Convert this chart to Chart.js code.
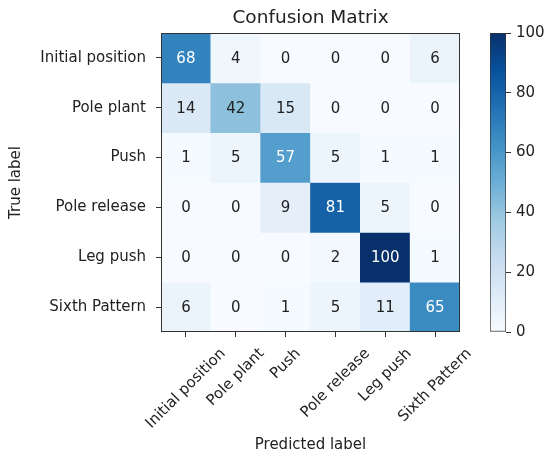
<!DOCTYPE html>
<html>
<head>
<meta charset="utf-8">
<script src="https://cdn.jsdelivr.net/npm/chart.js@4.4.1/dist/chart.umd.min.js"></script>
<style>
  html, body { margin: 0; padding: 0; background: #ffffff; }
  #wrap { position: relative; width: 545px; height: 459px; background: #ffffff; }
  #wrap canvas { position: absolute; left: 0; top: 0; }
</style>
</head>
<body>
<div id="wrap">
  <canvas id="matrix" width="545" height="459"></canvas>
  <canvas id="cbar" width="545" height="459"></canvas>
</div>
<script>
// Class names (rows = true label, columns = predicted label)
const classNames = ['Initial position', 'Pole plant', 'Push', 'Pole release', 'Leg push', 'Sixth Pattern'];

// Counts per true class, in predicted-class order
const rowInitialPosition = [68, 4, 0, 0, 0, 6];
const rowPolePlant       = [14, 42, 15, 0, 0, 0];
const rowPush            = [1, 5, 57, 5, 1, 1];
const rowPoleRelease     = [0, 0, 9, 81, 5, 0];
const rowLegPush         = [0, 0, 0, 2, 100, 1];
const rowSixthPattern    = [6, 0, 1, 5, 11, 65];

// Colour bar scale
const colorbarTicks = [0, 20, 40, 60, 80, 100];

const titleText = 'Confusion Matrix';
const xTitle = 'Predicted label';
const yTitle = 'True label';

const rows = [rowInitialPosition, rowPolePlant, rowPush, rowPoleRelease, rowLegPush, rowSixthPattern];
const vmin = colorbarTicks[0];
const vmax = colorbarTicks[colorbarTicks.length - 1];

// "Blues" sequential colour map anchors
const bluesStops = ['#f7fbff', '#deebf7', '#c6dbef', '#9ecae1', '#6baed6', '#4292c6', '#2171b5', '#08519c', '#08306b'];

function hexToRgb(h) {
  return [parseInt(h.slice(1, 3), 16), parseInt(h.slice(3, 5), 16), parseInt(h.slice(5, 7), 16)];
}
function blues(v) {
  let t = (v - vmin) / (vmax - vmin);
  t = Math.max(0, Math.min(1, t));
  const pos = t * (bluesStops.length - 1);
  const k = Math.min(Math.floor(pos), bluesStops.length - 2);
  const f = pos - k;
  const a = hexToRgb(bluesStops[k]), b = hexToRgb(bluesStops[k + 1]);
  const c = a.map((x, i) => Math.round(x + (b[i] - x) * f));
  return 'rgb(' + c.join(',') + ')';
}

const FONT = 'DejaVu Sans';
const TEXT = '#222222';
const EDGE = '#333333';
const threshold = (vmax + vmin) / 2;

// One floating-bar dataset per true-label row; each bar spans its row band
const datasets = rows.map((row, i) => ({
  label: classNames[i],
  data: row.map(() => [i - 0.5, i + 0.5]),
  counts: row,
  backgroundColor: row.map(v => blues(v)),
  borderWidth: 0,
  grouped: false,
  barPercentage: 1,
  categoryPercentage: 1
}));

// Cell annotations, rotated x tick labels, frame and title
const matrixDecor = {
  id: 'matrixDecor',
  afterDatasetsDraw(chart) {
    const { ctx, chartArea: a, scales: { x, y } } = chart;
    ctx.save();
    ctx.font = '15px "' + FONT + '"';
    ctx.textAlign = 'center';
    ctx.textBaseline = 'middle';
    rows.forEach((row, i) => {
      row.forEach((v, j) => {
        ctx.fillStyle = v > threshold ? '#ffffff' : TEXT;
        ctx.fillText(String(v), x.getPixelForValue(j), y.getPixelForValue(i) + 1);
      });
    });
    ctx.restore();
  },
  afterDraw(chart) {
    const { ctx, chartArea: a, scales: { x } } = chart;
    ctx.save();
    // frame
    ctx.strokeStyle = EDGE;
    ctx.lineWidth = 1;
    ctx.strokeRect(Math.round(a.left) + 0.5, Math.round(a.top) + 0.5,
                   Math.round(a.right - a.left) - 1, Math.round(a.bottom - a.top) - 1);
    // title
    ctx.fillStyle = TEXT;
    ctx.font = '18.5px "' + FONT + '"';
    ctx.textAlign = 'center';
    ctx.textBaseline = 'middle';
    ctx.fillText(titleText, (a.left + a.right) / 2, 18);
    // x tick labels rotated 45 degrees, bounding box centred on the tick
    ctx.font = '15px "' + FONT + '"';
    const h = 15 * 1.17;
    const top = a.bottom + 5 + 8;
    classNames.forEach((lab, j) => {
      const w = ctx.measureText(lab).width;
      const bh = (w + h) * Math.SQRT1_2;
      const cx = x.getPixelForValue(j);
      const cy = top + bh / 2;
      ctx.save();
      ctx.translate(cx, cy);
      ctx.rotate(-Math.PI / 4);
      ctx.fillText(lab, 0, 0);
      ctx.restore();
    });
    ctx.restore();
  }
};

new Chart(document.getElementById('matrix'), {
  type: 'bar',
  data: { labels: classNames, datasets },
  options: {
    responsive: false,
    animation: false,
    devicePixelRatio: 1,
    layout: { padding: { left: 0, top: 33, right: 85, bottom: 0 } },
    plugins: { legend: { display: false }, tooltip: { enabled: false }, title: { display: false } },
    scales: {
      x: {
        type: 'category',
        offset: true,
        grid: { offset: false, drawOnChartArea: false, drawTicks: true, tickLength: 5, color: EDGE },
        border: { display: false },
        ticks: { display: false },
        title: { display: true, text: xTitle, color: TEXT, font: { family: FONT, size: 15 }, padding: { top: 5, bottom: 5 } },
        afterFit(s) { s.height = 127; }
      },
      y: {
        type: 'linear',
        min: -0.5,
        max: 5.5,
        reverse: true,
        grid: { drawOnChartArea: false, drawTicks: true, tickLength: 5, color: EDGE },
        border: { display: false },
        afterBuildTicks(s) { s.ticks = classNames.map((_, i) => ({ value: i })); },
        ticks: {
          color: TEXT,
          font: { family: FONT, size: 15 },
          padding: 10,
          callback: v => classNames[v]
        },
        title: { display: true, text: yTitle, color: TEXT, font: { family: FONT, size: 15 }, padding: { top: 7, bottom: 4 } },
        afterFit(s) { s.width = 161; }
      }
    }
  },
  plugins: [matrixDecor]
});

// Colour bar: a single floating bar from vmin to vmax filled with the colour map
new Chart(document.getElementById('cbar'), {
  type: 'bar',
  data: {
    labels: ['scale'],
    datasets: [{
      data: [[vmin, vmax]],
      backgroundColor(ctx) {
        const a = ctx.chart.chartArea;
        if (!a) return bluesStops[0];
        const g = ctx.chart.ctx.createLinearGradient(0, a.bottom, 0, a.top);
        bluesStops.forEach((c, k) => g.addColorStop(k / (bluesStops.length - 1), c));
        return g;
      },
      borderColor: EDGE,
      borderWidth: 1,
      borderSkipped: false,
      barPercentage: 1,
      categoryPercentage: 1
    }]
  },
  options: {
    responsive: false,
    animation: false,
    devicePixelRatio: 1,
    layout: { padding: { left: 490, top: 33, right: 0, bottom: 127 } },
    plugins: { legend: { display: false }, tooltip: { enabled: false } },
    scales: {
      x: { display: false },
      y: {
        position: 'right',
        min: vmin,
        max: vmax,
        afterBuildTicks(s) { s.ticks = colorbarTicks.map(v => ({ value: v })); },
        grid: { drawOnChartArea: false, drawTicks: true, tickLength: 5, color: EDGE },
        border: { display: false },
        ticks: { color: TEXT, font: { family: FONT, size: 15 }, padding: 5 },
        afterFit(s) { s.width = 39; }
      }
    }
  }
});
</script>
</body>
</html>
